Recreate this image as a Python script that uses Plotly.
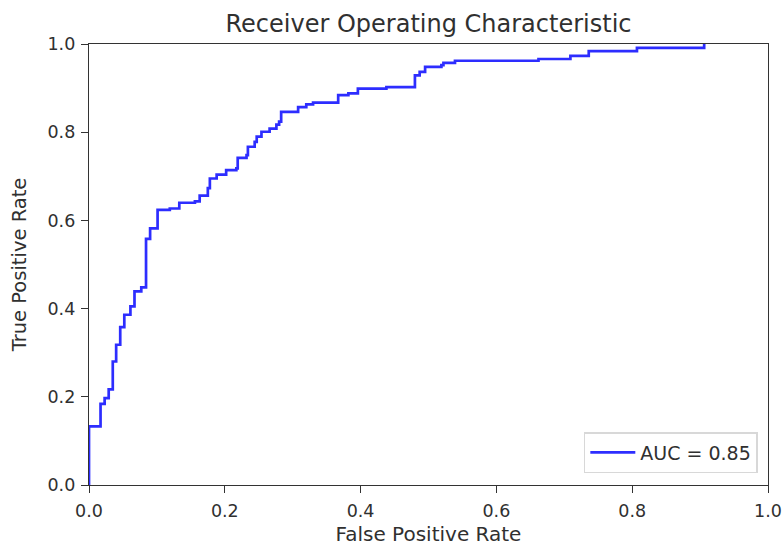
import plotly.graph_objects as go

fpr = [0.0, 0.0, 0.017, 0.017, 0.023, 0.029, 0.035, 0.040, 0.046, 0.052, 0.061, 0.067,
       0.077, 0.084, 0.084, 0.090, 0.101, 0.119, 0.133, 0.156, 0.163, 0.175, 0.178,
       0.188, 0.202, 0.217, 0.219, 0.232, 0.234, 0.244, 0.247, 0.254, 0.266, 0.276,
       0.280, 0.283, 0.308, 0.320, 0.330, 0.367, 0.382, 0.396, 0.438, 0.480, 0.480,
       0.487, 0.495, 0.519, 0.522, 0.539, 0.662, 0.709, 0.736, 0.807, 0.906]
tpr = [0.0, 0.133, 0.145, 0.184, 0.197, 0.217, 0.280, 0.318, 0.358, 0.386, 0.405, 0.439,
       0.448, 0.458, 0.558, 0.582, 0.624, 0.627, 0.640, 0.643, 0.656, 0.673, 0.695,
       0.704, 0.714, 0.718, 0.742, 0.748, 0.767, 0.778, 0.790, 0.801, 0.808, 0.817,
       0.824, 0.846, 0.857, 0.863, 0.867, 0.884, 0.888, 0.899, 0.902, 0.903, 0.929,
       0.937, 0.948, 0.952, 0.957, 0.962, 0.966, 0.973, 0.984, 0.991, 1.0]
auc_label = "AUC = 0.85"
ticks = [0.0, 0.2, 0.4, 0.6, 0.8, 1.0]
tick_text = ["0.0", "0.2", "0.4", "0.6", "0.8", "1.0"]

font = "DejaVu Sans"
txt = "#303030"
fig = go.Figure()
fig.add_trace(go.Scatter(x=fpr, y=tpr, mode="lines", line=dict(color="#0000ff", width=2.7, shape="hv"),
                         name=auc_label, opacity=0.82))

axis_common = dict(range=[0, 1], showgrid=False, zeroline=False, showline=True, mirror=True,
                   linecolor="#333333", linewidth=1.4, ticks="outside", ticklen=7, tickwidth=1.4,
                   tickcolor="#333333", tickvals=ticks, ticktext=tick_text, automargin=False,
                   ticklabeloverflow="allow",
                   tickfont=dict(family=font, size=17.5, color=txt))
fig.update_xaxes(**axis_common, ticklabelstandoff=3,
                 title=dict(text="False Positive Rate", font=dict(family=font, size=20, color=txt), standoff=7))
fig.update_yaxes(**axis_common, ticklabelstandoff=2,
                 title=dict(text="True Positive Rate", font=dict(family=font, size=19.5, color=txt), standoff=15))

fig.update_layout(
    width=782, height=546,
    margin=dict(l=89, r=14, t=44, b=61),
    paper_bgcolor="white", plot_bgcolor="white",
    title=dict(text="Receiver Operating Characteristic", x=0.5, xref="paper", xanchor="center",
               y=0.9575, yref="container", yanchor="middle",
               font=dict(family=font, size=24, color=txt)),
    showlegend=True,
    legend=dict(x=0.985, y=0.027, xanchor="right", yanchor="bottom", bgcolor="white",
                bordercolor="#d8d8d8", borderwidth=1.5, itemwidth=45,
                font=dict(family=font, size=19, color=txt)),
)

fig.write_html("out.html", config={"displayModeBar": False},
               post_script="document.body.style.margin='0';document.body.style.overflow='hidden';")
